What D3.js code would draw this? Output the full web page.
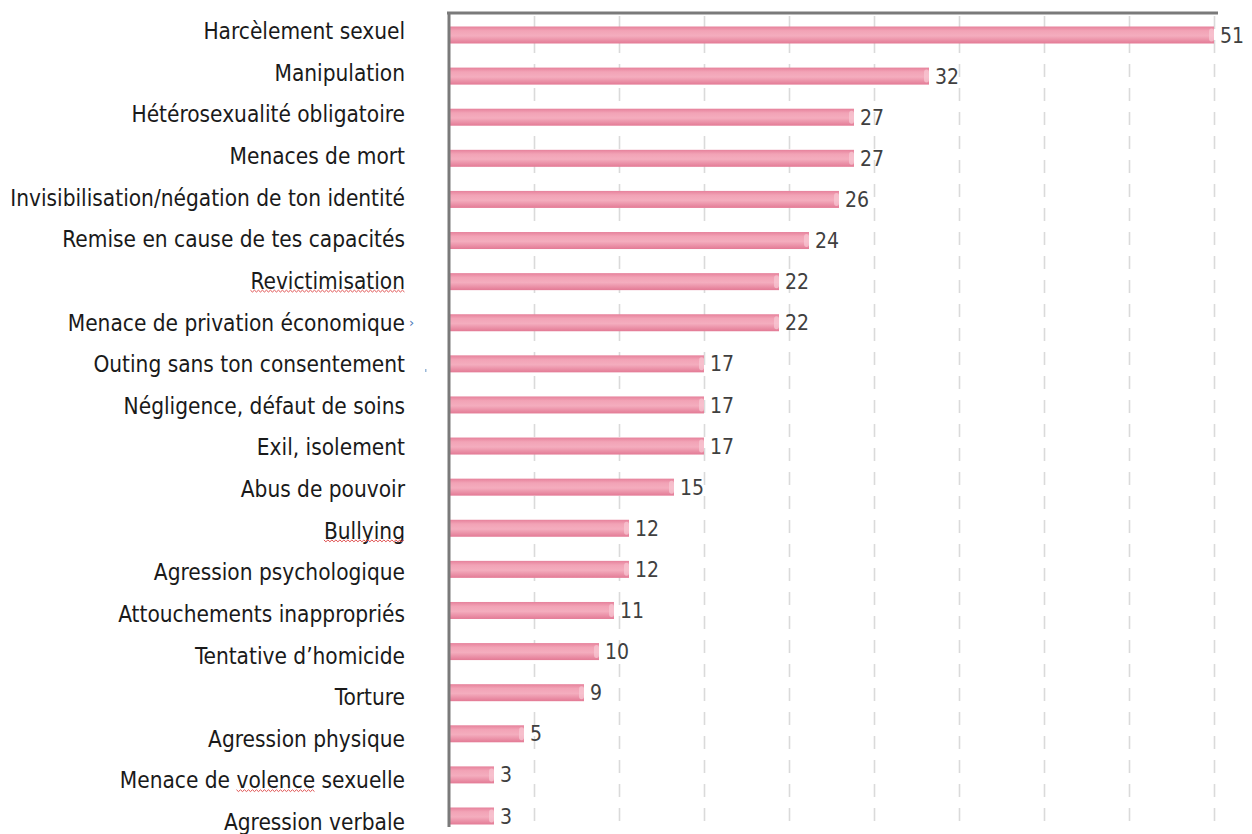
<!DOCTYPE html>
<html>
<head>
<meta charset="utf-8">
<script src="https://cdn.jsdelivr.net/npm/d3@7"></script>
<style>
  html, body { margin: 0; padding: 0; background: #fff; }
  svg { display: block; }
  .cat { font-family: "DejaVu Sans Condensed", "DejaVu Sans", sans-serif; fill: #1a1a1a; }
  .val { font-family: "DejaVu Sans Condensed", "DejaVu Sans", sans-serif; fill: #404040; }
</style>
</head>
<body>
<div id="chart"></div>
<script>
// categories, top to bottom
var categories = [
    "Harcèlement sexuel",
    "Manipulation",
    "Hétérosexualité obligatoire",
    "Menaces de mort",
    "Invisibilisation/négation de ton identité",
    "Remise en cause de tes capacités",
    "Revictimisation",
    "Menace de privation économique",
    "Outing sans ton consentement",
    "Négligence, défaut de soins",
    "Exil, isolement",
    "Abus de pouvoir",
    "Bullying",
    "Agression psychologique",
    "Attouchements inappropriés",
    "Tentative d’homicide",
    "Torture",
    "Agression physique",
    "Menace de volence sexuelle",
    "Agression verbale"
];
var values = [51, 32, 27, 27, 26, 24, 22, 22, 17, 17, 17, 15, 12, 12, 11, 10, 9, 5, 3, 3];

// axis max and number of gridline intervals
var xMax = 51;
var gridCount = 9;
var gridTicks = d3.range(1, gridCount + 1).map(function(i) { return i * xMax / gridCount; });

// words flagged with a spellcheck underline in the original
var flagged = [
    { cat: "Revictimisation", word: "Revictimisation" },
    { cat: "Bullying", word: "Bullying" },
    { cat: "Menace de volence sexuelle", word: "volence" }
];

var W = 1252, H = 834;
var svg = d3.select("#chart").append("svg").attr("width", W).attr("height", H);

var x = d3.scaleLinear().domain([0, xMax]).range([449, 1214]);
var yBar = d3.scalePoint().domain(categories).range([35, 816]);
var yLab = d3.scalePoint().domain(categories).range([31, 822]);
var barH = 17;

// bar gradient
var defs = svg.append("defs");
var grad = defs.append("linearGradient").attr("id", "barGrad")
    .attr("x1", 0).attr("y1", 0).attr("x2", 0).attr("y2", 1);
grad.append("stop").attr("offset", "0%").attr("stop-color", "#e6819b");
grad.append("stop").attr("offset", "25%").attr("stop-color", "#f2a3b6");
grad.append("stop").attr("offset", "55%").attr("stop-color", "#f4adbe");
grad.append("stop").attr("offset", "100%").attr("stop-color", "#e37a95");

// dashed gridlines
svg.append("g").selectAll("line").data(gridTicks).join("line")
    .attr("x1", function(d) { return Math.round(x(d)) + 0.5; })
    .attr("x2", function(d) { return Math.round(x(d)) + 0.5; })
    .attr("y1", 16).attr("y2", 826)
    .attr("stroke", "#dadada").attr("stroke-width", 1.6)
    .attr("stroke-dasharray", "13,11");

// bars
var bars = svg.append("g").selectAll("g").data(categories).join("g");
bars.append("rect")
    .attr("x", x(0))
    .attr("y", function(d) { return yBar(d) - barH / 2; })
    .attr("width", function(d, i) { return x(values[i]) - x(0); })
    .attr("height", barH)
    .attr("fill", "url(#barGrad)");
// light rounded end cap
bars.append("rect")
    .attr("x", function(d, i) { return x(values[i]) - 5; })
    .attr("y", function(d) { return yBar(d) - barH / 2 + 2; })
    .attr("width", 5).attr("height", barH - 4)
    .attr("rx", 3)
    .attr("fill", "#f8c9d4").attr("opacity", 0.7);

// value labels
svg.append("g").selectAll("text").data(categories).join("text")
    .attr("class", "val")
    .attr("x", function(d, i) { return x(values[i]) + 6; })
    .attr("y", function(d) { return yBar(d); })
    .attr("dy", "0.36em")
    .attr("font-size", 21)
    .text(function(d, i) { return values[i]; });

// axes lines (top and left)
svg.append("line").attr("x1", 447).attr("x2", 1218).attr("y1", 13).attr("y2", 13)
    .attr("stroke", "#7a7a7a").attr("stroke-width", 3);
svg.append("line").attr("x1", 449).attr("x2", 449).attr("y1", 12).attr("y2", 827)
    .attr("stroke", "#7a7a7a").attr("stroke-width", 3);

// category labels
var labels = svg.append("g").selectAll("text").data(categories).join("text")
    .attr("class", "cat")
    .attr("x", 405)
    .attr("y", function(d) { return yLab(d); })
    .attr("dy", "0.36em")
    .attr("text-anchor", "end")
    .attr("font-size", 20)
    .text(function(d) { return d; });

// fit font size so the longest label spans the same width as in the original
var longest = labels.filter(function(d) { return d === "Invisibilisation/négation de ton identité"; }).node();
var fs = 20 * 395 / longest.getComputedTextLength();
labels.attr("font-size", fs);

// spellcheck wavy underlines
flagged.forEach(function(f) {
    var node = labels.filter(function(d) { return d === f.cat; }).node();
    var start = f.cat.indexOf(f.word);
    var x0 = node.getStartPositionOfChar(start).x;
    var x1 = node.getEndPositionOfChar(start + f.word.length - 1).x;
    var yy = yLab(f.cat) + 10;
    var pts = [];
    for (var px = x0, k = 0; px <= x1; px += 2, k++) pts.push([px, yy + (k % 2 ? 1.2 : -0.6)]);
    svg.append("path").attr("d", d3.line()(pts))
        .attr("fill", "none").attr("stroke", "#e05050").attr("stroke-width", 1);
});

// stray marks in the original
svg.append("text").attr("x", 409).attr("y", yLab("Menace de privation économique"))
    .attr("dy", "0.36em").attr("font-size", 13).attr("fill", "#4a78b8")
    .attr("font-family", "DejaVu Sans").text("›");
svg.append("rect").attr("x", 425).attr("y", 369).attr("width", 1.5).attr("height", 3)
    .attr("fill", "#9ab8d8");
</script>
</body>
</html>
